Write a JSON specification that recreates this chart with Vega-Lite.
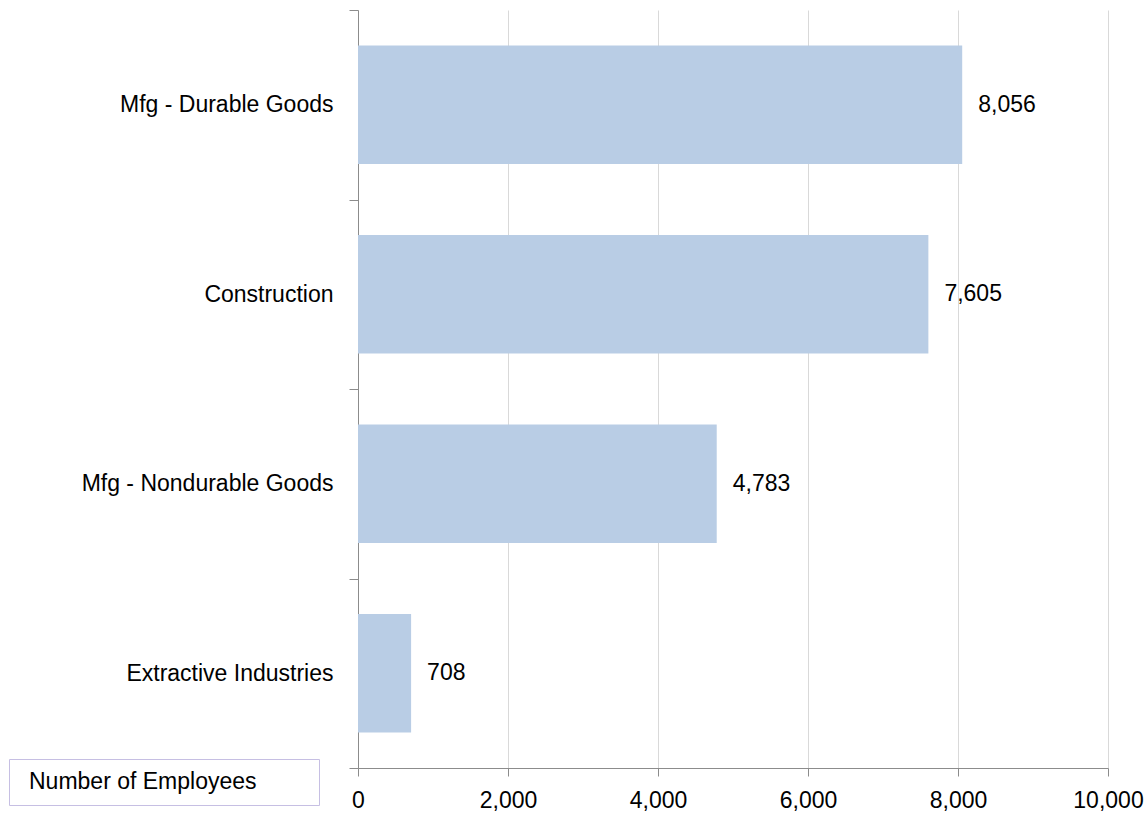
{
  "$schema": "https://vega.github.io/schema/vega-lite/v6.json",
  "width": 750,
  "height": 758,
  "autosize": {"type": "none"},
  "padding": {"left": 358, "top": 10, "right": 39, "bottom": 49},
  "background": "white",
  "config": {
    "view": {"stroke": null},
    "font": "Liberation Sans, Arial, sans-serif"
  },
  "data": {
    "values": [
      {"industry": "Mfg - Durable Goods", "employees": 8056, "series": "Number of Employees"},
      {"industry": "Construction", "employees": 7605, "series": "Number of Employees"},
      {"industry": "Mfg - Nondurable Goods", "employees": 4783, "series": "Number of Employees"},
      {"industry": "Extractive Industries", "employees": 708, "series": "Number of Employees"}
    ]
  },
  "encoding": {
    "y": {
      "field": "industry",
      "type": "nominal",
      "sort": null,
      "scale": {"paddingInner": 0, "paddingOuter": 0},
      "axis": {
        "title": null,
        "tickBand": "extent",
        "tickSize": 9,
        "tickColor": "#8c8c8c",
        "domainColor": "#8c8c8c",
        "labelFontSize": 23,
        "labelColor": "#000000",
        "labelPadding": 16,
        "labelLimit": 400,
        "grid": false
      }
    },
    "x": {
      "field": "employees",
      "type": "quantitative",
      "scale": {"domain": [0, 10000], "nice": false},
      "axis": {
        "title": null,
        "values": [0, 2000, 4000, 6000, 8000, 10000],
        "format": ",.0f",
        "tickSize": 8,
        "tickColor": "#8c8c8c",
        "domainColor": "#8c8c8c",
        "gridColor": "#d9d9d9",
        "labelFontSize": 23,
        "labelColor": "#000000",
        "labelPadding": 13,
        "labelFlush": false
      }
    }
  },
  "layer": [
    {
      "mark": {"type": "bar", "height": {"band": 0.625}},
      "encoding": {
        "color": {
          "field": "series",
          "type": "nominal",
          "scale": {"range": ["#b9cde5"]},
          "legend": {
            "title": null,
            "orient": "none",
            "legendX": -349,
            "legendY": 749,
            "symbolOpacity": 0,
            "symbolSize": 0,
            "symbolStrokeWidth": 0,
            "labelFontSize": 23,
            "labelColor": "#000000",
            "labelOffset": -14,
            "labelExpr": "datum.label + '\u2800\u2800\u2800'",
            "strokeColor": "#c6bfe3",
            "padding": 11,
            "labelLimit": 400
          }
        }
      }
    },
    {
      "mark": {
        "type": "text",
        "align": "left",
        "baseline": "middle",
        "dx": 16,
        "fontSize": 23,
        "color": "#000000"
      },
      "encoding": {
        "text": {"field": "employees", "type": "quantitative", "format": ",.0f"}
      }
    }
  ]
}
